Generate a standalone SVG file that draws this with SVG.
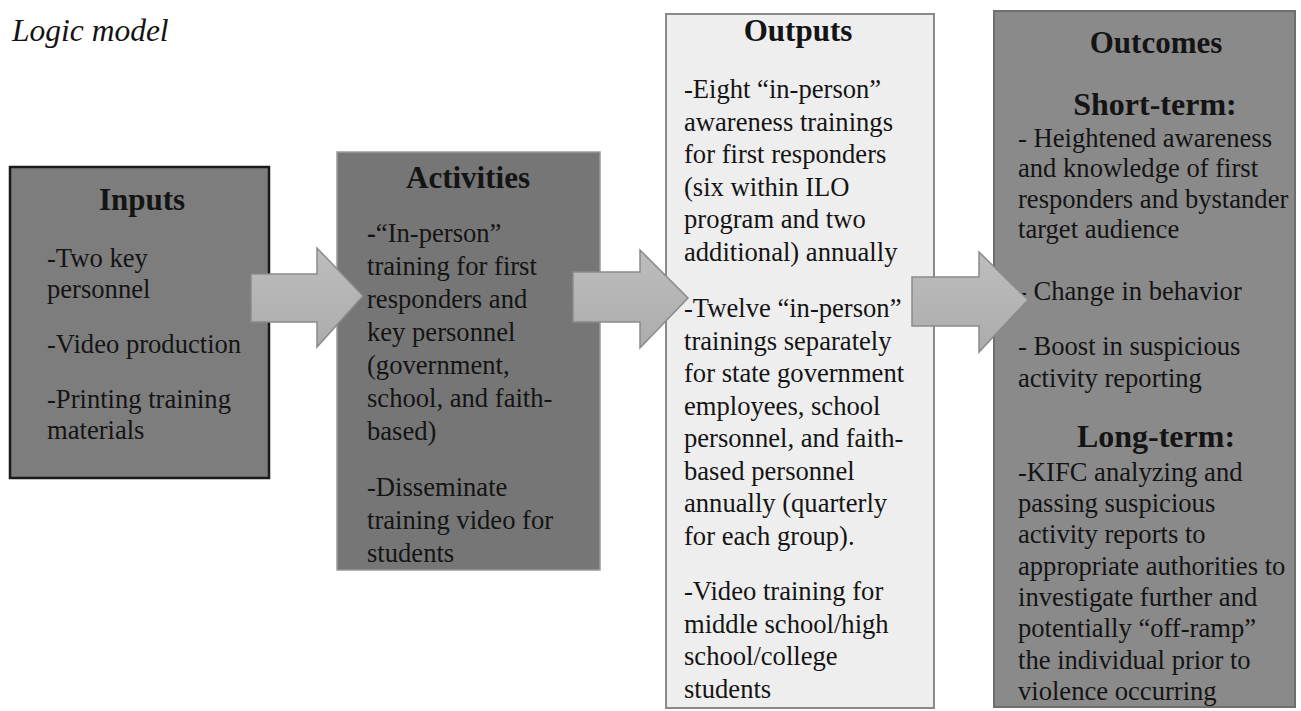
<svg xmlns="http://www.w3.org/2000/svg" width="1301" height="711" viewBox="0 0 1301 711">
<defs>
<style>
text{font-family:"Liberation Serif","Times New Roman",serif;fill:#141414;}
.t{font-size:31px;font-weight:bold;text-anchor:middle;}
.s{font-size:32px;font-weight:bold;text-anchor:middle;}
.b{font-size:26.6px;}
.arrow{fill:url(#ag);stroke:#8a8a8a;stroke-width:1.5;stroke-linejoin:miter;}
</style>
<linearGradient id="ag" x1="0" y1="0" x2="0" y2="1">
<stop offset="0" stop-color="#bdbdbd"/>
<stop offset="1" stop-color="#acacac"/>
</linearGradient>
</defs>
<rect width="1301" height="711" fill="#ffffff"/>
<text x="12" y="41" style="font-size:31.5px;font-style:italic;">Logic model</text>

<g id="inputs">
<rect x="10" y="167" width="259" height="311" fill="#7d7d7d" stroke="#1a1a1a" stroke-width="2.5"/>
<text class="t" x="142" y="210">Inputs</text>
<text class="b" x="47" y="267">-Two key</text>
<text class="b" x="47" y="298">personnel</text>
<text class="b" x="47" y="353">-Video production</text>
<text class="b" x="47" y="408">-Printing training</text>
<text class="b" x="47" y="439">materials</text>
</g>

<g id="activities">
<rect x="337" y="152" width="263" height="418" fill="#767676" stroke="#9a9a9a" stroke-width="1.5"/>
<text class="t" x="468" y="188">Activities</text>
<text class="b" x="367" y="242"><tspan font-weight="bold">-</tspan>“In-person”</text>
<text class="b" x="367" y="275">training for first</text>
<text class="b" x="367" y="308">responders and</text>
<text class="b" x="367" y="341">key personnel</text>
<text class="b" x="367" y="374">(government,</text>
<text class="b" x="367" y="407">school, and faith-</text>
<text class="b" x="367" y="440">based)</text>
<text class="b" x="367" y="496">-Disseminate</text>
<text class="b" x="367" y="529">training video for</text>
<text class="b" x="367" y="562">students</text>
</g>

<g id="outputs">
<rect x="666" y="14" width="268" height="694" fill="#eeeeee" stroke="#8a8a8a" stroke-width="2"/>
<text class="t" x="798" y="41">Outputs</text>
<text class="b" x="684" y="98">-Eight “in-person”</text>
<text class="b" x="684" y="130.5">awareness trainings</text>
<text class="b" x="684" y="163">for first responders</text>
<text class="b" x="684" y="195.5">(six within ILO</text>
<text class="b" x="684" y="228">program and two</text>
<text class="b" x="684" y="260.5">additional) annually</text>
<text class="b" x="684" y="317">-Twelve “in-person”</text>
<text class="b" x="684" y="349.5">trainings separately</text>
<text class="b" x="684" y="382">for state government</text>
<text class="b" x="684" y="414.5">employees, school</text>
<text class="b" x="684" y="447">personnel, and faith-</text>
<text class="b" x="684" y="479.5">based personnel</text>
<text class="b" x="684" y="512">annually (quarterly</text>
<text class="b" x="684" y="544.5">for each group).</text>
<text class="b" x="684" y="600">-Video training for</text>
<text class="b" x="684" y="632.5">middle school/high</text>
<text class="b" x="684" y="665">school/college</text>
<text class="b" x="684" y="697.5">students</text>
</g>

<g id="outcomes">
<rect x="994" y="11" width="301" height="696" fill="#8a8a8a" stroke="#6e6e6e" stroke-width="2"/>
<text class="t" x="1156" y="53">Outcomes</text>
<text class="s" x="1155" y="115">Short-term:</text>
<text class="b" x="1018" y="147">- Heightened awareness</text>
<text class="b" x="1018" y="177">and knowledge of first</text>
<text class="b" x="1018" y="208">responders and bystander</text>
<text class="b" x="1018" y="238">target audience</text>
<text class="b" x="1018" y="300">- Change in behavior</text>
<text class="b" x="1018" y="355">- Boost in suspicious</text>
<text class="b" x="1018" y="387">activity reporting</text>
<text class="s" x="1156" y="447">Long-term:</text>
<text class="b" x="1018" y="481">-KIFC analyzing and</text>
<text class="b" x="1018" y="512">passing suspicious</text>
<text class="b" x="1018" y="543">activity reports to</text>
<text class="b" x="1018" y="575">appropriate authorities to</text>
<text class="b" x="1018" y="606">investigate further and</text>
<text class="b" x="1018" y="637">potentially “off-ramp”</text>
<text class="b" x="1018" y="669">the individual prior to</text>
<text class="b" x="1018" y="700">violence occurring</text>
</g>

<g id="connectors">
<polygon class="arrow" points="251,274 317,274 317,248 363,296 317,347 317,322 251,322"/>
<polygon class="arrow" points="573,272 640,272 640,250 688,298 640,348 640,322 573,322"/>
<polygon class="arrow" points="912,277 979,277 979,252 1028,300 979,352 979,326 912,326"/>
</g>
</svg>
